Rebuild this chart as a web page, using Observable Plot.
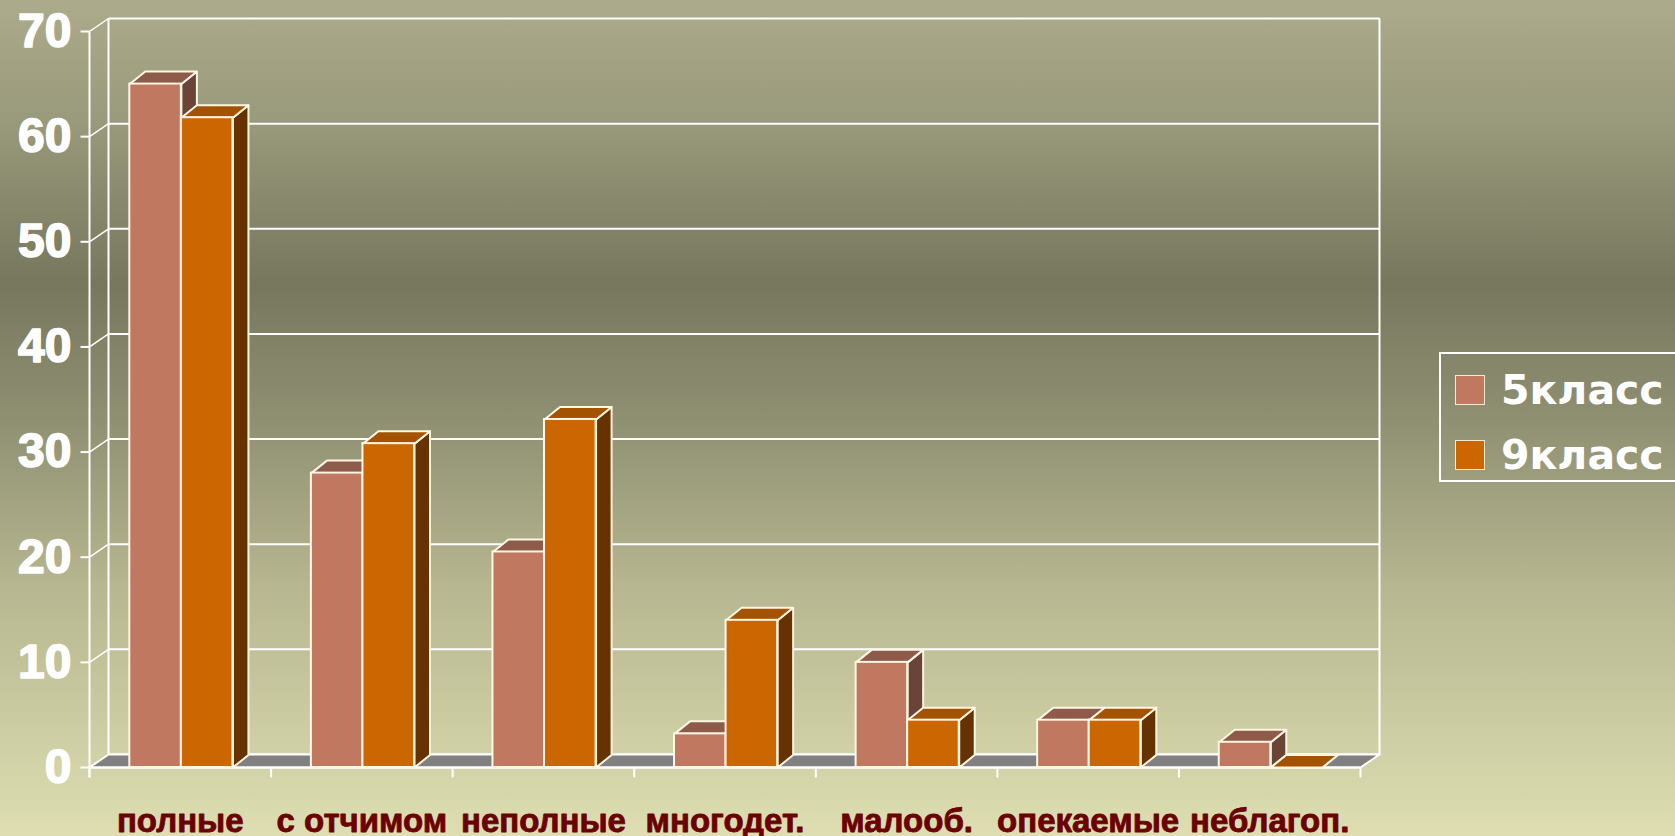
<!DOCTYPE html>
<html>
<head>
<meta charset="utf-8">
<script src="https://cdn.jsdelivr.net/npm/d3@7"></script>
<script src="https://cdn.jsdelivr.net/npm/@observablehq/plot@0.6"></script>
<style>
  html, body { margin: 0; padding: 0; width: 1675px; height: 836px; overflow: hidden; }
  body {
    background: linear-gradient(to bottom, #acac8c 0%, #9a9a7c 14%, #76775d 34%, #8f9072 50%, #b6b690 70%, #dedeb2 100%);
    position: relative;
  }
  #chart { position: absolute; left: 0; top: 0; }
  #legend {
    position: absolute; left: 1439px; top: 352px; width: 260px; height: 130px;
    border: 2px solid #ffffff; box-sizing: border-box;
  }
  .item { position: absolute; left: 14px; display: flex; align-items: center; height: 40px; }
  .sw { width: 30px; height: 30px; box-sizing: border-box; border: 1.5px solid #f3ead0; margin-right: 16px; }
  .lab { font-family: "DejaVu Sans", sans-serif; font-weight: bold; font-size: 41px; color: #ffffff; line-height: 40px; }
</style>
</head>
<body>
<div id="chart"></div>
<div id="legend"></div>
<script>
// ---- data ----
const categories = ["полные", "с отчимом", "неполные", "многодет.", "малооб.", "опекаемые", "неблагоп."];
const series = ["5класс", "9класс"];
const grade5 = [65, 28, 20.5, 3.2, 10, 4.5, 2.4];
const grade9 = [61.8, 30.8, 33.1, 14, 4.5, 4.5, 0];
const yTicks = [0, 10, 20, 30, 40, 50, 60, 70];

// ---- styles ----
const frontColor = {"5класс": "#c07860", "9класс": "#cc6600"};
const topColor = {"5класс": "#8e5a49", "9класс": "#a35200"};
const sideColor = {"5класс": "#6a4436", "9класс": "#663300"};
const edge = "#fff6e4";

const W = 1675, H = 836;
const mL = 89, mR = W - 1360, mT = 31, mB = H - 767;
const nCat = categories.length;
const kx = (W - mL - mR) / nCat;      // px per category unit
const ky = (H - mT - mB) / 70;        // px per value unit
// pixel depths converted to data units
const wallDX = 19 / kx, wallDY = 13 / ky;
const barDX = 15.5 / kx, barDY = 12.5 / ky;
const barOffset = 0.222, barW = 0.284;

const values = {"5класс": grade5, "9класс": grade9};
const bars = [];
series.forEach((s, si) => {
  categories.forEach((c, i) => {
    const x1 = i + barOffset + si * barW, x2 = x1 + barW, v = values[s][i];
    bars.push({s, c, i, x1, x2, v});
  });
});
function topPoly(b) {
  return [[b.x1, b.v], [b.x2, b.v], [b.x2 + barDX, b.v + barDY], [b.x1 + barDX, b.v + barDY], [b.x1, b.v]]
    .map(([x, y]) => ({x, y, key: b.s + b.c}));
}
function sidePoly(b) {
  return [[b.x2, 0], [b.x2, b.v], [b.x2 + barDX, b.v + barDY], [b.x2 + barDX, barDY], [b.x2, 0]]
    .map(([x, y]) => ({x, y, key: b.s + b.c}));
}
const floor = [[0, 0], [nCat, 0], [nCat + wallDX, wallDY], [wallDX, wallDY], [0, 0]].map(([x, y]) => ({x, y}));

const barMarks = [];
series.forEach(s => {
  const bs = bars.filter(b => b.s === s);
  barMarks.push(
    Plot.line(bs.flatMap(sidePoly), {x: "x", y: "y", z: "key", fill: sideColor[s], stroke: edge, strokeWidth: 2, strokeLinejoin: "round", curve: "linear"}),
    Plot.line(bs.flatMap(topPoly), {x: "x", y: "y", z: "key", fill: topColor[s], stroke: edge, strokeWidth: 2, strokeLinejoin: "round", curve: "linear"}),
    Plot.rect(bs, {x1: "x1", x2: "x2", y1: 0, y2: "v", fill: frontColor[s], stroke: edge, strokeWidth: 2})
  );
});

const lbl = {fontFamily: "Liberation Sans, Arial, sans-serif", fontWeight: "bold"};

const chart = Plot.plot({
  width: W, height: H,
  marginLeft: mL, marginRight: mR, marginTop: mT, marginBottom: mB,
  x: {type: "linear", domain: [0, nCat], axis: null},
  y: {type: "linear", domain: [0, 70], axis: null},
  style: {background: "transparent", overflow: "visible"},
  marks: [
    // back wall gridlines
    Plot.link(yTicks, {x1: wallDX, x2: nCat + wallDX, y1: d => d + wallDY, y2: d => d + wallDY, stroke: "#ffffff", strokeWidth: 2}),
    Plot.link([0], {x1: wallDX, x2: wallDX, y1: wallDY, y2: 70 + wallDY, stroke: "#ffffff", strokeWidth: 2}),
    Plot.link([0], {x1: nCat + wallDX, x2: nCat + wallDX, y1: wallDY, y2: 70 + wallDY, stroke: "#ffffff", strokeWidth: 2}),
    // side wall connectors
    Plot.link(yTicks, {x1: 0, x2: wallDX, y1: d => d, y2: d => d + wallDY, stroke: "#ffffff", strokeWidth: 1.5}),
    // floor
    Plot.line(floor, {x: "x", y: "y", fill: "#808080", stroke: "#ffffff", strokeWidth: 2}),
    // front axes
    Plot.link([0], {x1: 0, x2: 0, y1: -10 / ky, y2: 70, stroke: "#ffffff", strokeWidth: 2}),
    Plot.link(yTicks, {x1: -9 / kx, x2: 0, y1: d => d, y2: d => d, stroke: "#ffffff", strokeWidth: 2}),
    Plot.link(d3.range(nCat + 1), {x1: d => d, x2: d => d, y1: 0, y2: -10 / ky, stroke: "#ffffff", strokeWidth: 2}),
    Plot.link([0], {x1: 0, x2: nCat, y1: 0, y2: 0, stroke: "#ffffff", strokeWidth: 2}),
    ...barMarks,
    // labels
    Plot.text(yTicks, {x: 0, y: d => d, text: d => String(d), textAnchor: "end", dx: -18, fill: "#ffffff", stroke: "#ffffff", strokeWidth: 1.6, fontSize: 48, ...lbl}),
    Plot.text(categories, {x: (d, i) => i + 0.5, y: 0, text: d => d, dy: 64, lineAnchor: "bottom", fill: "#6b0000", stroke: "#6b0000", strokeWidth: 0.8, fontSize: 33, ...lbl})
  ]
});
document.getElementById("chart").appendChild(chart);

// legend
const legend = document.getElementById("legend");
series.forEach((s, i) => {
  const it = document.createElement("div");
  it.className = "item";
  it.style.top = (16 + i * 65) + "px";
  const sw = document.createElement("div");
  sw.className = "sw";
  sw.style.background = frontColor[s];
  const t = document.createElement("div");
  t.className = "lab";
  t.textContent = s;
  it.appendChild(sw); it.appendChild(t);
  legend.appendChild(it);
});
</script>
</body>
</html>
